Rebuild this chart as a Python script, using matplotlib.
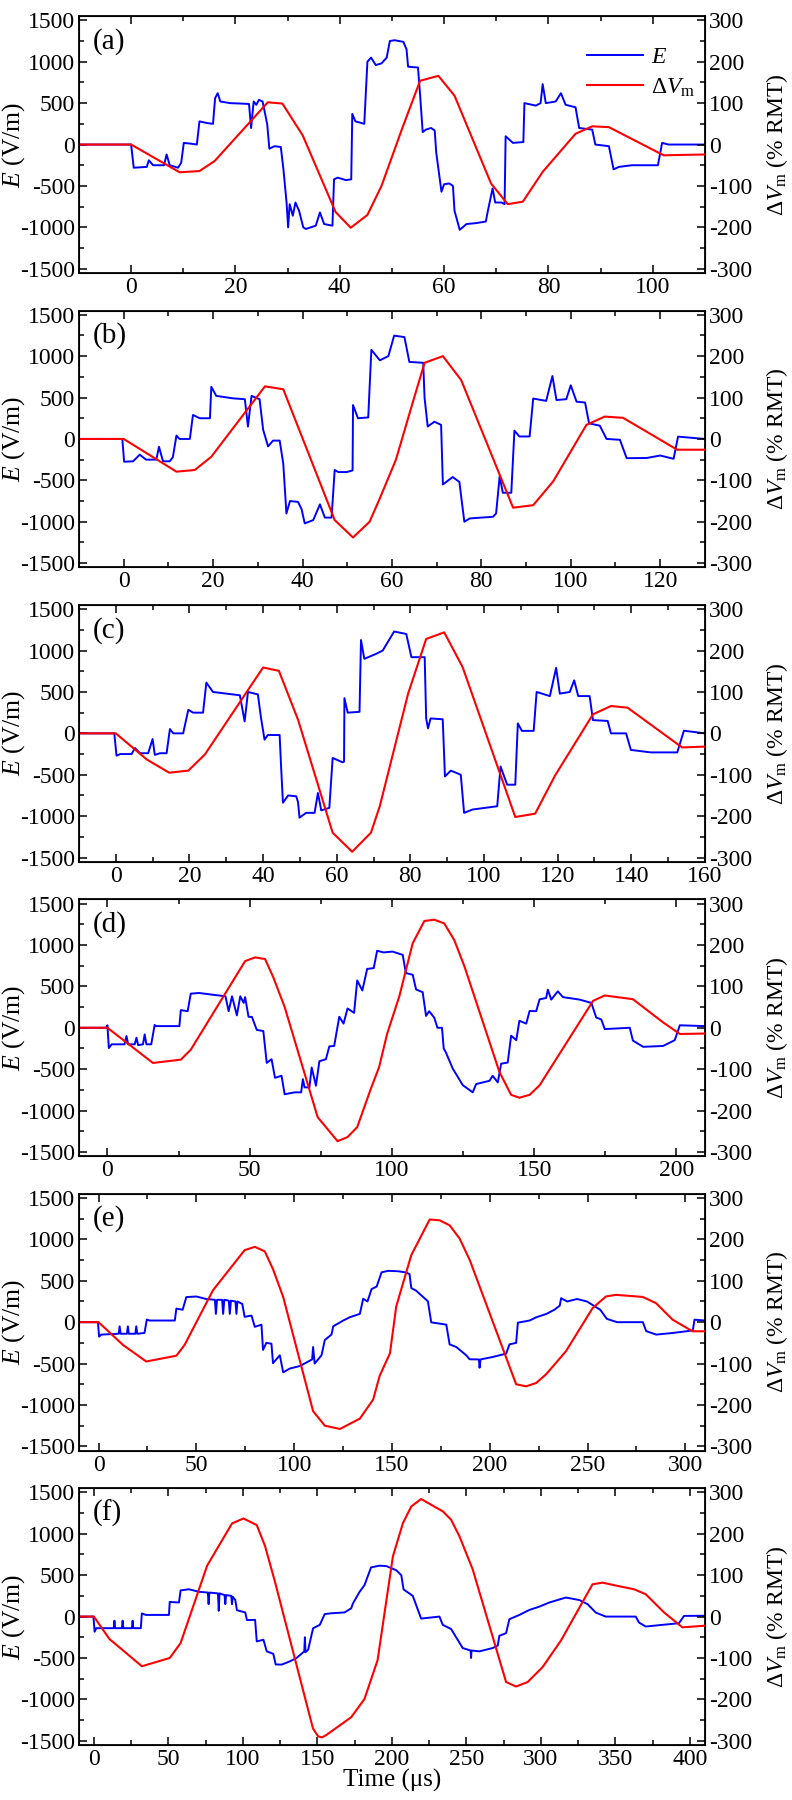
import matplotlib
matplotlib.use("Agg")
import matplotlib.pyplot as plt
from matplotlib.ticker import MultipleLocator

plt.rcParams['font.family'] = ['Liberation Serif', 'DejaVu Serif']
plt.rcParams['mathtext.fontset'] = 'custom'
plt.rcParams['mathtext.rm'] = 'Liberation Serif'
plt.rcParams['mathtext.it'] = 'Liberation Serif:italic'
plt.rcParams['axes.unicode_minus'] = False

# ---- panel (a) ----
t_a = [-10, 0, 0.5, 3, 3.4, 4.2, 6.3, 6.8, 7.4, 9, 9.6, 10.1, 11.5, 12.6, 13.1, 14.5, 15.7, 16.1, 16.6, 17.1,
       19, 21, 22.6, 23, 23.5, 24, 24.5, 25.2, 25.6, 26.1, 26.5, 27.5, 28.7, 29.2, 29.8, 30.1, 30.4, 31, 31.5,
       32.2, 33, 33.5, 35.4, 36.2, 37, 38.6, 38.9, 39.6, 41.2, 42.2, 42.4, 43, 44.7, 45.3, 46, 46.9, 48, 49,
       49.6, 50.5, 52.2, 52.8, 53.1, 55, 55.4, 55.9, 56.5, 57.5, 58.2, 58.5, 59.5, 60, 61, 61.7, 62, 63, 64.3,
       66, 68, 68.4, 69.3, 69.8, 71, 71.6, 71.8, 73.2, 75.2, 75.4, 77.6, 78.5, 78.9, 79.5, 81.4, 82.4, 83.3,
       85.2, 85.9, 88.4, 89, 91.6, 92.5, 93.5, 96, 101, 101.8, 103, 110]
e_a = [0, 0, -280, -270, -190, -250, -250, -120, -250, -280, -220, 20, 10, 0, 280, 260, 250, 560, 620, 520,
       500, 495, 490, 200, 520, 480, 540, 520, 400, 240, -50, -20, -30, -300, -700, -1000, -720, -860, -700,
       -800, -1000, -1020, -980, -820, -960, -980, -420, -400, -430, -420, 370, 280, 250, 1000, 1050, 960, 980, 1050,
       1250, 1260, 1240, 1150, 940, 930, 600, 150, 180, 200, 170, -100, -570, -480, -470, -500, -800, -1030, -960,
       -950, -930, -800, -530, -700, -700, -720, 100, 20, 30, 500, 470, 500, 730, 500, 520, 620, 480,
       450, 200, 180, 0, -20, -300, -270, -250, -250, 20, 0, 0]
tr_a = [-10, 0, 9.3, 13.1, 16, 26.2, 29, 32.9, 39.2, 42.1, 45.3, 48, 52, 55.4, 58.9, 62, 69, 72.2, 75.1, 78.9,
        85.2, 88.4, 91.6, 102.1, 110]
v_a = [0, 0, -67, -64, -40, 102, 99, 22, -163, -201, -170, -100, 40, 154, 166, 118, -94, -144, -138, -66,
       26, 44, 42, -26, -24]

# ---- panel (b) ----
t_b = [-10, -0.3, 0.1, 2.1, 3.6, 5, 7.3, 7.9, 8.8, 10.3, 11, 11.8, 12.5, 14.8, 15.5, 17, 19.3, 19.6, 20.7, 24.5,
       27.1, 27.8, 28.6, 30.4, 31.2, 32.3, 33.4, 34.9, 35.7, 36.4, 37.2, 39, 39.8, 40.5, 42.4, 43.9, 45, 46.5,
       47.2, 48, 49.9, 51.2, 51.3, 52.4, 54.7, 55.4, 57.3, 59.2, 60.5, 62.8, 63.9, 67, 67.3, 68, 69.5, 71, 71.4,
       73.6, 75.1, 75.5, 76.2, 77.4, 82.6, 83.3, 84.1, 84.8, 86.7, 87.4, 88.5, 90.8, 91.6, 94.5, 95.9, 96.8, 99,
       100, 101.3, 103.2, 104.1, 106.5, 108, 111, 112.5, 117, 120, 123, 124, 130]
e_b = [0, 0, -275, -270, -190, -250, -250, -95, -270, -270, -220, 40, 0, 0, 290, 250, 250, 630, 520, 490,
       480, 150, 520, 480, 110, -90, -20, -20, -300, -900, -750, -760, -850, -1020, -980, -790, -950, -950,
       -375, -400, -400, -380, 410, 250, 260, 1076, 950, 1000, 1248, 1230, 930, 920, 500, 150, 208, 170, -550,
       -460, -520, -700, -1000, -960, -940, -900, -450, -650, -650, 100, 30, 30, 488, 460, 760, 470, 480,
       648, 450, 440, 188, 160, 0, -10, -232, -230, -200, -240, 28, 0]
tr_b = [-10, 0, 11.8, 15.9, 19.6, 31.6, 35.7, 47.2, 51.3, 55, 57.2, 60.9, 64.6, 67.3, 71.4, 75.5, 87.1, 91.6,
        96.1, 103.5, 107.6, 111.7, 123.8, 130]
v_b = [0, 0, -79, -75, -43, 127, 120, -196, -238, -200, -146, -50, 86, 184, 200, 142, -166, -160,
       -102, 34, 54, 51, -26, -26]

# ---- panel (c) ----
t_c = [-10, -0.4, 0.2, 1.2, 4.3, 5.2, 6.6, 8.8, 10, 10.6, 12, 13.8, 14.7, 15.6, 18.3, 19.7, 21, 23.7, 24.6, 26.4,
       30, 33.7, 35, 35.9, 38.6, 39.4, 40.4, 41.3, 44.5, 44.9, 45.4, 46.8, 49, 49.5, 49.9, 51.7, 54, 54.9, 55.8,
       58, 58.9, 61.6, 62, 62.1, 63, 66.2, 66.6, 67.5, 70.7, 72.5, 75.6, 78.9, 80.3, 83.9, 84.3, 84.8, 85.5,
       88.8, 89.4, 91, 93.7, 94.6, 96.9, 103.6, 104.5, 106.3, 108.5, 109.2, 110.3, 113.5, 114.3, 117.9, 119.6,
       120.6, 123.3, 124.5, 125.6, 128.7, 129.6, 133.6, 134.5, 138.6, 139.9, 145.3, 152.5, 154.3, 160]
e_c = [0, 0, -270, -250, -250, -176, -240, -240, -68, -260, -240, -240, 52, 0, 0, 285, 250, 250, 613, 500,
       480, 460, 144, 500, 470, 200, -76, -20, -20, -400, -838, -750, -760, -830, -1018, -960, -960, -720, -930,
       -900, -297, -350, -340, 425, 250, 260, 1127, 900, 960, 1000, 1230, 1200, 920, 920, 180, 60, 180,
       170, -520, -450, -500, -960, -920, -880, -400, -620, -620, 120, 30, 30, 500, 450, 792,
       480, 500, 640, 450, 450, 160, 150, 0, 0, -200, -230, -230, 32, 0]
tr_c = [-10, 0, 8.4, 14.5, 19.7, 24.2, 40, 44.3, 49.5, 58.9, 64.2, 69.3, 71.7, 79.4, 84.3, 89.2, 94.2, 108.5,
        113.9, 119.3, 129.6, 134.5, 139, 153.8, 160]
v_c = [0, 0, -63, -95, -90, -51, 159, 151, 33, -240, -286, -240, -176, 96, 228, 244, 160, -202,
       -194, -102, 46, 66, 62, -34, -32]

# ---- panel (d) ----
t_d = [-10, -0.3, 0, 0.5, 1.5, 6, 6.7, 7.3, 9.6, 10.2, 10.8, 12.5, 13.1, 13.7, 15.4, 16.6, 17.1, 25.3, 25.8, 28.2,
       29.3, 32.2, 36.8, 41.5, 42.6, 43.8, 45.5, 46.7, 47.9, 48.4, 49.6, 50.8, 52.5, 54.8, 56, 57.7, 58.9, 61.2,
       62.3, 65.8, 68.1, 68.7, 69.3, 71, 71.8, 73.3, 74.5, 76.8, 78, 79.7, 81.5, 83, 84.4, 86.7, 87.8, 89.6,
       91.3, 93.6, 94.8, 97.1, 100.2, 103.8, 104.9, 107.3, 108.5, 110.8, 112, 113.1, 114.9, 116, 117.6, 118.2,
       119, 121.4, 124.9, 128.4, 129.6, 134.3, 135.4, 137.2, 138.4, 140.7, 141.9, 143.7, 144.8, 147.2, 148.4,
       150.7, 151.9, 154.2, 154.8, 156, 158.3, 160.1, 166, 170.1, 171.8, 173.6, 174.8, 183.6, 184.7, 188.3,
       195.3, 199.4, 201.2, 210]
e_d = [0, 0, 30, -245, -200, -200, -100, -200, -200, -120, -210, -200, -80, -200, -200, 34, 20, 20, 213, 200,
       412, 420, 400, 380, 200, 380, 150, 380, 300, 370, 133, 130, -26, -40, -424, -380, -604, -580,
       -803, -780, -780, -620, -720, -720, -480, -700, -404, -380, -225, -220, 133, 50, 233, 180, 572, 450,
       711, 720, 930, 910, 920, 880, 661, 640, 462, 430, 143, 200, 120, 0, 0, -250,
       -300, -494, -693, -780, -680, -640, -580, -660, -434, -420, -96, -150, 84, 50, 203,
       200, 343, 360, 460, 340, 440, 370, 340, 300, 124, 100, -16, 0, -155, -230,
       -220, -150, 30, 20]
tr_d = [-10, 0, 16, 25.8, 29.3, 48.4, 51.9, 55.4, 58.3, 62.3, 73.9, 80.9, 84.4, 87.8, 92.5, 95.5, 98.3, 102.6,
        107.3, 111.4, 114.9, 118.4, 121.9, 125.5, 137.8, 141.9, 144.8, 148.4, 151.9, 170.7, 174.8, 184.7,
        195.3, 201.2, 210]
v_d = [0, 0, -85, -77, -53, 161, 170, 166, 122, 50, -216, -274, -264, -240, -149, -95, -15, 76,
       204, 258, 261, 252, 212, 148, -107, -162, -169, -162, -139, 65, 78, 69,
       13, -15, -14]

# ---- panel (e) ----
t_e = [-10, -0.3, 0.3, 1.4, 10.3, 10.8, 11.3, 14.5, 15, 15.5, 18.8, 19.3, 19.8, 23.5, 24.7, 26, 39, 39.8, 43,
       44.9, 50, 55, 59.5, 60, 60.6, 63.2, 63.7, 64.3, 66.6, 67.1, 67.7, 70, 70.5, 71, 73.5, 74.7, 78.2, 79.9,
       83.3, 84.1, 85.8, 88.4, 89.2, 92.7, 94.4, 97.8, 102.9, 109.2, 109.7, 110.5, 114, 115.7, 119.1, 120,
       125.1, 128.5, 133.6, 135.3, 137.5, 139.6, 142.2, 144.7, 148.1, 153.2, 157.3, 159, 159.9, 162.4, 168.4,
       170.1, 177.8, 179.5, 182.9, 188, 189.7, 194.5, 194.8, 195.3, 201.6, 208.4, 210.1, 213.5, 214.4, 220.4,
       223.9, 229, 233.2, 235.8, 236.5, 239.6, 244.6, 249.7, 253.1, 256.5, 259.9, 265.1, 278.3, 280, 285.1,
       293.7, 303.8, 304.7, 310]
e_e = [0, 0, -175, -150, -140, -50, -140, -140, -50, -140, -140, -50, -140, -130, 32, 20, 20, 164, 150,
       303, 310, 280, 270, 100, 270, 270, 100, 270, 260, 100, 260, 250, 100, 250, 220, 64, 80, -56,
       -30, -335, -250, -260, -495, -400, -606, -560, -530, -450, -300, -500, -400, -215, -150, -50,
       20, 60, 100, 283, 250, 400, 430, 602, 620, 615, 600, 580, 412, 380, 252,
       -2, -30, -268, -300, -400, -448, -450, -550, -450, -420, -380, -268, -250, -6, 20,
       60, 100, 152, 200, 290, 250, 280, 250, 200, 150, 40, 0, 0, -108, -150,
       -130, -100, 30, 20]
tr_e = [-10, 0, 12.5, 24.4, 39.8, 44, 58.5, 74.7, 79.9, 85, 89.2, 94.4, 109.7, 115.7, 123.4, 133.6, 140.4,
        143.7, 149, 152.2, 159.9, 169.3, 174.4, 179.5, 184.6, 189.8, 213.5, 218.6, 223.7, 228.8, 239, 252.6,
        259.4, 264.5, 278.2, 285, 293.5, 303.7, 310]
v_e = [0, 0, -55, -95, -81, -55, 77, 174, 182, 171, 128, 61, -215, -250, -258, -233, -187,
       -130, -75, 38, 162, 248, 246, 234, 202, 150, -150, -155, -147, -126, -70, 34,
       62, 66, 61, 46, 6, -22, -22]

# ---- panel (f) ----
t_f = [-10, -0.3, 0.5, 1.6, 13.3, 13.8, 14.3, 18.8, 19.3, 19.8, 25.5, 26, 26.5, 31.5, 32.2, 34.9, 50.4, 50.9,
       57.1, 58.2, 63.8, 70.4, 76.5, 77, 77.5, 83.3, 83.8, 84.3, 87.7, 88.2, 88.7, 92.2, 92.7, 93.2, 94.9, 96,
       101.6, 102.7, 108.2, 109.3, 113.8, 116, 120.4, 122, 126, 131.6, 136, 141.2, 141.6, 142, 143.8, 147.1,
       151.6, 154.9, 159.3, 168.2, 172.7, 173.8, 178.2, 181.6, 186, 191.6, 196.2, 202.9, 206.3, 207.8, 214,
       219.6, 231.9, 234.1, 239.7, 243.1, 247.5, 252.8, 253.1, 253.4, 258.7, 267.6, 271, 272.1, 276.6, 278.8,
       285.5, 292.2, 298.9, 305.6, 311.2, 316.7, 325.7, 331.3, 336.8, 343.5, 363.6, 365.8, 370.3, 381.5,
       392.6, 396, 410]
e_f = [0, 0, -183, -140, -140, -50, -140, -140, -50, -140, -140, -50, -140, -140, 38, 20, 20, 177,
       170, 316, 330, 300, 290, 150, 290, 280, 70, 280, 260, 150, 260, 250, 150, 240, 200, 77,
       50, -42, -40, -300, -280, -420, -450, -578, -580, -540, -500, -420, -250, -430, -400, -141,
       -100, 30, 40, 50, 100, 157, 296, 380, 594, 615, 610, 560, 500, 328, 250,
       -24, 0, -100, -150, -250, -380, -410, -500, -410, -420, -380, -350, -232, -200, -32,
       20, 80, 120, 170, 200, 230, 200, 150, 48, 0, 0, -72, -120, -100,
       -80, 8, 10]
tr_f = [-10, 0, 10.4, 32.2, 50.9, 58.2, 76, 92.7, 100.4, 109.3, 114.9, 121.6, 147, 150.4, 153, 156, 172.7,
        181.6, 190.4, 195.5, 200.7, 207.4, 213, 219.6, 234.2, 239.7, 245.3, 254.2, 276.6, 283.3, 291.1,
        301.1, 313.4, 334.6, 341.3, 350.2, 362.5, 370.3, 382.6, 394.9, 410]
v_f = [0, 0, -54, -120, -100, -64, 123, 225, 237, 221, 170, 83, -270, -289, -292, -286, -243,
       -199, -105, 20, 146, 226, 266, 284, 254, 234, 194, 114, -158, -169, -158,
       -122, -58, 78, 82, 75, 66, 54, 10, -26, -22]

letters = ['(a)', '(b)', '(c)', '(d)', '(e)', '(f)']
xmax = [110, 130, 160, 210, 310, 410]
xmajor = [20, 20, 20, 50, 50, 50]
blue_t = [t_a, t_b, t_c, t_d, t_e, t_f]
blue_e = [e_a, e_b, e_c, e_d, e_e, e_f]
red_t = [tr_a, tr_b, tr_c, tr_d, tr_e, tr_f]
red_v = [v_a, v_b, v_c, v_d, v_e, v_f]

fig, axes = plt.subplots(6, 1, figsize=(7.92, 18), dpi=100,
                         gridspec_kw=dict(left=0.0997, right=0.890, top=0.991, bottom=0.0306, hspace=0.147))

for i, ax in enumerate(axes):
    ax2 = ax.twinx()
    l1, = ax.plot(blue_t[i], blue_e[i], color='#0000ff', lw=1.4)
    l2, = ax2.plot(red_t[i], red_v[i], color='#ff0000', lw=1.5)

    ax.set_xlim(-10, xmax[i])
    ax.set_ylim(-1550, 1550)
    ax2.set_ylim(-310, 310)
    ax.xaxis.set_major_locator(MultipleLocator(xmajor[i]))
    ax.xaxis.set_minor_locator(MultipleLocator(xmajor[i] / 2))
    ax.yaxis.set_major_locator(MultipleLocator(500))
    ax.yaxis.set_minor_locator(MultipleLocator(250))
    ax2.yaxis.set_major_locator(MultipleLocator(100))
    ax2.yaxis.set_minor_locator(MultipleLocator(50))

    ax.tick_params(which='both', direction='in', top=True, labelsize=17, width=1.1, pad=3)
    ax.tick_params(which='major', length=6)
    ax.tick_params(which='minor', length=3.5)
    ax2.tick_params(which='both', direction='in', labelsize=17, width=1.1, pad=3)
    ax2.tick_params(which='major', length=6)
    ax2.tick_params(which='minor', length=3.5)
    for sp in ax.spines.values():
        sp.set_linewidth(1.3)

    ax.set_ylabel('$E$ (V/m)', fontsize=18.5)
    ax.yaxis.set_label_coords(-0.083, 0.5)
    ax2.set_ylabel(r'$\Delta V_{\rm m}$ (% RMT)', fontsize=17)
    ax2.yaxis.set_label_coords(1.094, 0.5)
    ax.text(0.022, 0.955, letters[i], transform=ax.transAxes, fontsize=21, va='top', ha='left')

    if i == 0:
        ax.legend([l1, l2], ['$E$', r'$\Delta V_{\rm m}$'], loc='upper left', bbox_to_anchor=(0.777, 0.965),
                  frameon=False, fontsize=17, handlelength=2.4, labelspacing=0.35, handletextpad=0.35)

axes[-1].set_xlabel('Time (μs)', fontsize=18, labelpad=-1)

plt.savefig('out.png', dpi=100)
